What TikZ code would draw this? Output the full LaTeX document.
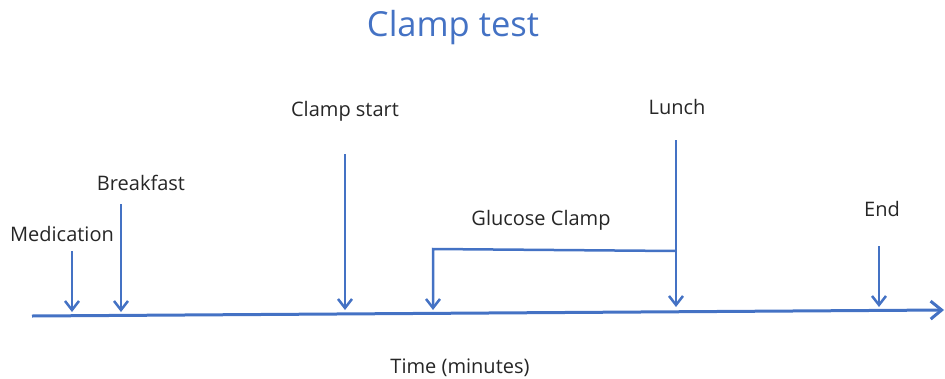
\documentclass[tikz,border=0pt]{standalone}
\usepackage{fontspec}
\setmainfont{Open Sans}
\usetikzlibrary{arrows.meta}
\definecolor{cblue}{HTML}{4472C4}
\begin{document}
\begin{tikzpicture}[x=1pt,y=-1pt,
  lbl/.style={font=\fontsize{20}{22}\selectfont, text=black!85, inner sep=0pt},
  evt/.style={draw=cblue, line width=2.5pt, -{Straight Barb[length=9pt,width=14pt,line width=2.5pt]}},
  axisline/.style={draw=cblue, line width=3pt, -{Straight Barb[length=11pt,width=18pt,line width=3pt]}}]
\useasboundingbox (0,0) rectangle (945,378);
\node[text=cblue, font=\fontsize{34.5}{38}\selectfont, inner sep=0pt] (title) at (453,28) {Clamp test};
\node[lbl] (med) at (62,234) {Medication};
\node[lbl] (bre) at (141,183) {Breakfast};
\node[lbl] (cst) at (345,111) {Clamp start};
\node[lbl] (glc) at (541,220) {Glucose Clamp};
\node[lbl] (lun) at (677,107) {Lunch};
\node[lbl] (end) at (882,209) {End};
\node[lbl] (time) at (460,368) {Time (minutes)};
\coordinate (a0) at (32,316);
\coordinate (a1) at (944,310);
\draw[axisline] (a0) -- (a1);
\coordinate (m0) at (72,251);
\coordinate (m1) at (72,312);
\coordinate (b0) at (121,204);
\coordinate (b1) at (121,312);
\coordinate (c0) at (345,154);
\coordinate (c1) at (345,310);
\coordinate (g0) at (676,251);
\coordinate (g1) at (433,249);
\coordinate (g2) at (433,310);
\coordinate (l0) at (676,140);
\coordinate (l1) at (676,307);
\coordinate (e0) at (879,246);
\coordinate (e1) at (879,307);
\draw[evt] (m0) -- (m1);
\draw[evt] (b0) -- (b1);
\draw[evt] (c0) -- (c1);
\draw[evt] (g0) -- (g1) -- (g2);
\draw[evt] (l0) -- (l1);
\draw[evt] (e0) -- (e1);
\end{tikzpicture}
\end{document}
